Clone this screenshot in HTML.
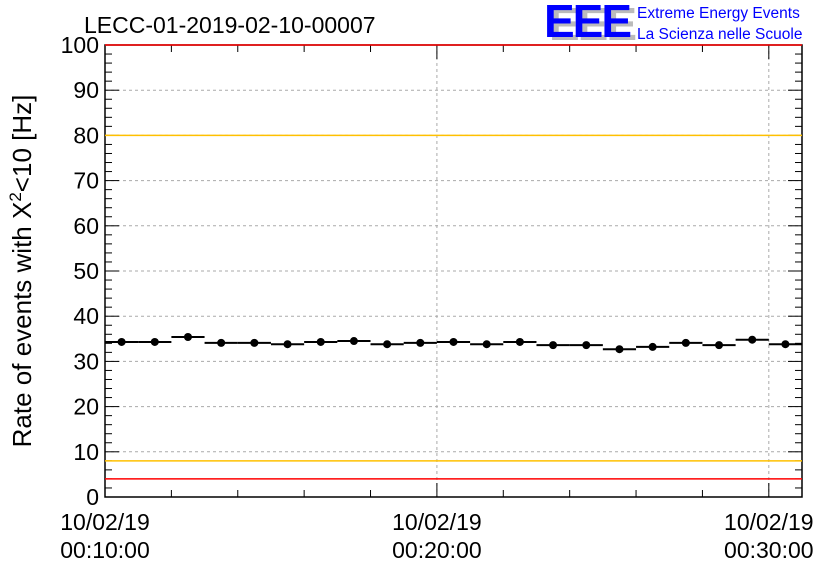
<!DOCTYPE html>
<html><head><meta charset="utf-8"><style>
body{margin:0;background:#fff;}
svg{display:block;font-family:"Liberation Sans",sans-serif;}
</style></head><body>
<svg id="c" width="836" height="572" viewBox="0 0 836 572">
<text x="84" y="33" font-size="23">LECC-01-2019-02-10-00007</text>
<g>
<text x="549" y="40" font-size="46" font-weight="bold" fill="#bbb" letter-spacing="-2">EEE</text>
<text x="544" y="37" font-size="46" font-weight="bold" fill="#0000ff" letter-spacing="-2">EEE</text>
<text x="637" y="18" font-size="15.5" fill="#0000ff">Extreme Energy Events</text>
<text x="637" y="39" font-size="15.5" fill="#0000ff">La Scienza nelle Scuole</text>
</g>
<text transform="translate(31,271) rotate(-90)" text-anchor="middle" font-size="26">Rate of events with X<tspan dy="-10" font-size="17">2</tspan><tspan dy="10">&lt;10 [Hz]</tspan></text>
<g id="grid"></g><g id="axes"></g><g id="marks"></g>
</svg>
<script>
const minutes=[10.5,11.5,12.5,13.5,14.5,15.5,16.5,17.5,18.5,19.5,20.5,21.5,22.5,23.5,24.5,25.5,26.5,27.5,28.5,29.5,30.5];
const rates=[34.3,34.3,35.4,34.1,34.1,33.8,34.3,34.5,33.8,34.1,34.3,33.8,34.3,33.6,33.6,32.7,33.2,34.1,33.6,34.8,33.8];
const yTicks=[0,10,20,30,40,50,60,70,80,90,100];
const xTickMinutes=[10,20,30];
const xTickDates=["10/02/19","10/02/19","10/02/19"];
const xTickTimes=["00:10:00","00:20:00","00:30:00"];
const redLimits=[100,4];
const yellowLimits=[80,8];
const L=105,R=802,T=45,B=497,X0=10,X1=31;
const sx=m=>L+(m-X0)/(X1-X0)*(R-L);
const sy=v=>B-v/100*(B-T);
const NS="http://www.w3.org/2000/svg";
function mk(p,t,a){const e=document.createElementNS(NS,t);for(const k in a)e.setAttribute(k,a[k]);p.appendChild(e);return e;}
const g=document.getElementById('grid'),ax=document.getElementById('axes'),mg=document.getElementById('marks');
yTicks.forEach(v=>{if(v>0&&v<100){const l=mk(g,'line',{x1:L,x2:R,y1:sy(v),y2:sy(v),stroke:'#aaa','stroke-dasharray':'3,3'});

}
const t=mk(ax,'text',{x:L-6,y:sy(v)+8,'text-anchor':'end','font-size':23});t.textContent=v;

});
xTickMinutes.forEach((m,i)=>{if(m>X0){const l=mk(g,'line',{x1:sx(m),x2:sx(m),y1:T,y2:B,stroke:'#aaa','stroke-dasharray':'3,3'});

}
const t=mk(ax,'text',{x:sx(m),y:530,'text-anchor':'middle','font-size':23});t.textContent=xTickDates[i];


const t2=mk(ax,'text',{x:sx(m),y:558,'text-anchor':'middle','font-size':23});t2.textContent=xTickTimes[i];

});
const fr=mk(ax,'rect',{x:L,y:T,width:R-L,height:B-T,fill:'none',stroke:'#000','stroke-width':1.5});


for(let v=0;v<=100;v+=2){const len=v%10===0?14:7;
mk(ax,'line',{x1:L,x2:L+len,y1:sy(v),y2:sy(v),stroke:'#000'});mk(ax,'line',{x1:R-len,x2:R,y1:sy(v),y2:sy(v),stroke:'#000'});}
for(let m=10;m<=X1;m+=2){const len=m%10===0?14:7;
mk(ax,'line',{x1:sx(m),x2:sx(m),y1:B,y2:B-len,stroke:'#000'});mk(ax,'line',{x1:sx(m),x2:sx(m),y1:T,y2:T+len,stroke:'#000'});}
redLimits.forEach(v=>{const l=mk(mg,'line',{x1:L,x2:R,y1:sy(v),y2:sy(v),stroke:'#ff0000','stroke-width':1.5});

});
yellowLimits.forEach(v=>{const l=mk(mg,'line',{x1:L,x2:R,y1:sy(v),y2:sy(v),stroke:'#ffc000','stroke-width':1.5});

});
minutes.forEach((m,i)=>{const y=sy(rates[i]);
const l=mk(mg,'line',{x1:Math.max(L,sx(m-0.5)),x2:Math.min(R,sx(m+0.5)),y1:y,y2:y,stroke:'#000','stroke-width':2});


const c=mk(mg,'circle',{cx:sx(m),cy:y,r:4,fill:'#000'});

});
</script>
</body></html>
